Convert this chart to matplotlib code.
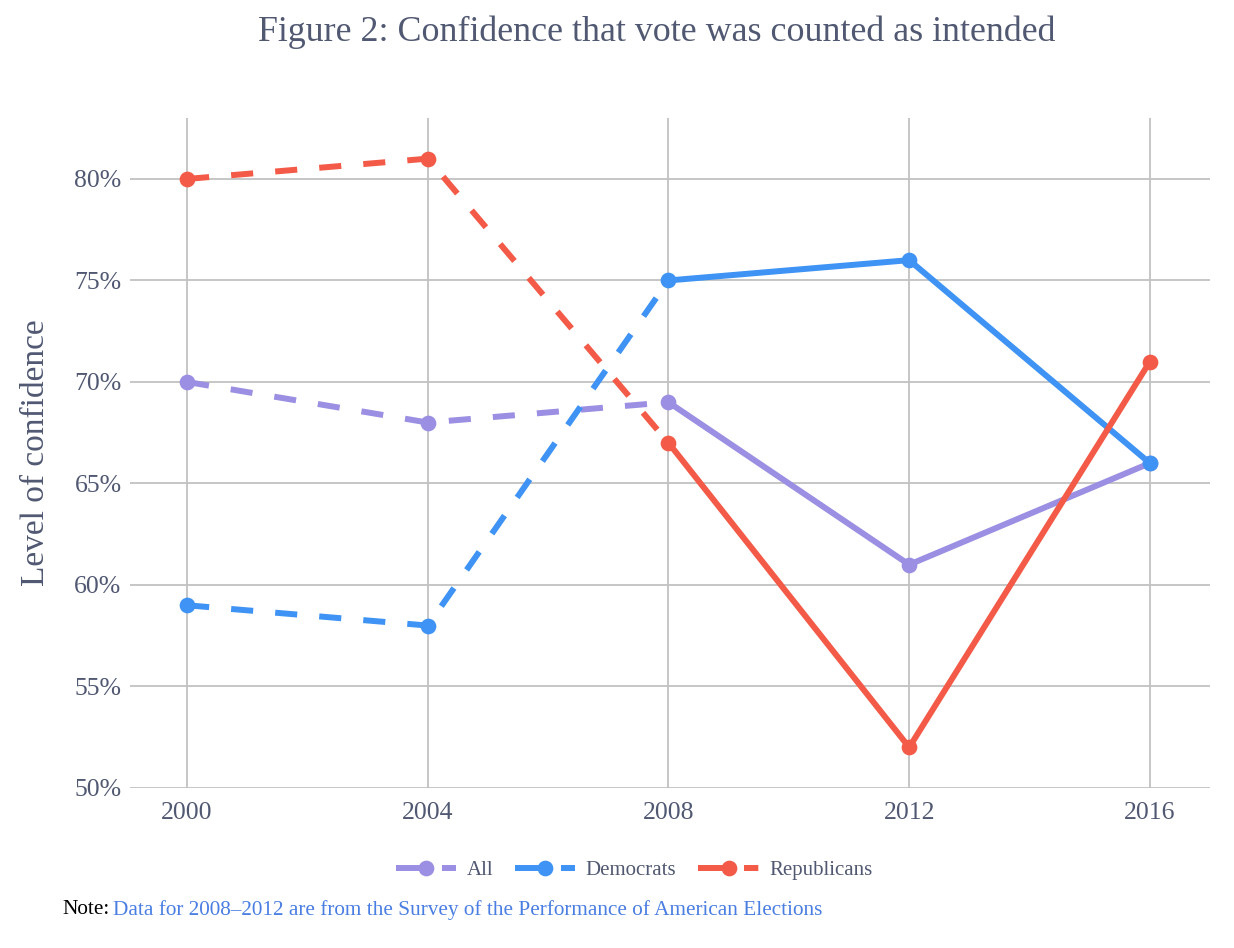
import matplotlib
matplotlib.use("Agg")
import matplotlib.pyplot as plt
from matplotlib.lines import Line2D
from matplotlib.ticker import FuncFormatter

# Data
years = [2000, 2004, 2008, 2012, 2016]
all_voters = [70, 68, 69, 61, 66]
democrats = [59, 58, 75, 76, 66]
republicans = [80, 81, 67, 52, 71]

series_names = ["All", "Democrats", "Republicans"]
series_values = [all_voters, democrats, republicans]
colors = ["#9a8fe2", "#3e93f4", "#f35a47"]

text_color = "#505872"
plt.rcParams["font.family"] = ["Liberation Serif", "DejaVu Serif"]

fig = plt.figure(figsize=(12.34, 9.48), dpi=100)
ax = fig.add_axes([0.1053, 0.1688, 0.8753, 0.7067])

lw = 4.3
# first three points (2000-2008) dashed, 2008-2016 solid
split = 2
for name, vals, col in zip(series_names, series_values, colors):
    ax.plot(years[:split + 1], vals[:split + 1], color=col, lw=lw,
            dashes=(3.7, 3.7), dash_capstyle="butt", zorder=3)
    ax.plot(years[split:], vals[split:], color=col, lw=lw,
            solid_capstyle="round", zorder=3)
    ax.plot(years, vals, linestyle="none", marker="o", markersize=10.3,
            color=col, zorder=4)

ax.set_xlim(1999.05, 2017.0)
ax.set_ylim(50, 83)
ax.set_xticks(years)
ax.set_yticks([50, 55, 60, 65, 70, 75, 80])
ax.yaxis.set_major_formatter(FuncFormatter(lambda v, p: "{:.0f}%".format(v)))
ax.grid(True, color="#c2c2c2", lw=1.3, zorder=0)
for s in ax.spines.values():
    s.set_visible(False)
ax.tick_params(length=0, labelsize=18.5, labelcolor=text_color)
ax.tick_params(axis="x", pad=10)
ax.tick_params(axis="y", pad=6)
ax.set_ylabel("Level of confidence", fontsize=24, color=text_color)
ax.yaxis.set_label_coords(-0.073, 0.5)

fig.text(0.532, 1 - 32 / 948, "Figure 2: Confidence that vote was counted as intended",
         ha="center", va="center", fontsize=25.8, color=text_color)

# legend: solid stub, marker, dash
handles = [
    Line2D([], [], color=c, lw=lw, dashes=(5, 2.7, 2.4, 6),
           dash_capstyle="butt", marker="o", markersize=10.3)
    for c in colors
]
fig.legend(handles, series_names, loc="center",
           bbox_to_anchor=(634 / 1234, 1 - 870 / 948), ncol=3, frameon=False,
           fontsize=15, labelcolor=text_color, handlelength=2.9,
           handletextpad=0.5, columnspacing=1.05)

note = fig.text(62 / 1234, 1 - 910 / 948, "Note:", ha="left", va="center",
                fontsize=15.3, color="black")
blue = fig.text(0, 1 - 910 / 948,
                "Data for 2008\u20132012 are from the Survey of the Performance of American Elections",
                fontsize=15.3, color="#4a7ee2", ha="left", va="center")
fig.canvas.draw()
bb = note.get_window_extent()
x1, _ = fig.transFigure.inverted().transform((bb.x1 + 4, bb.y0))
blue.set_x(x1)

fig.savefig("out.png", dpi=100)
